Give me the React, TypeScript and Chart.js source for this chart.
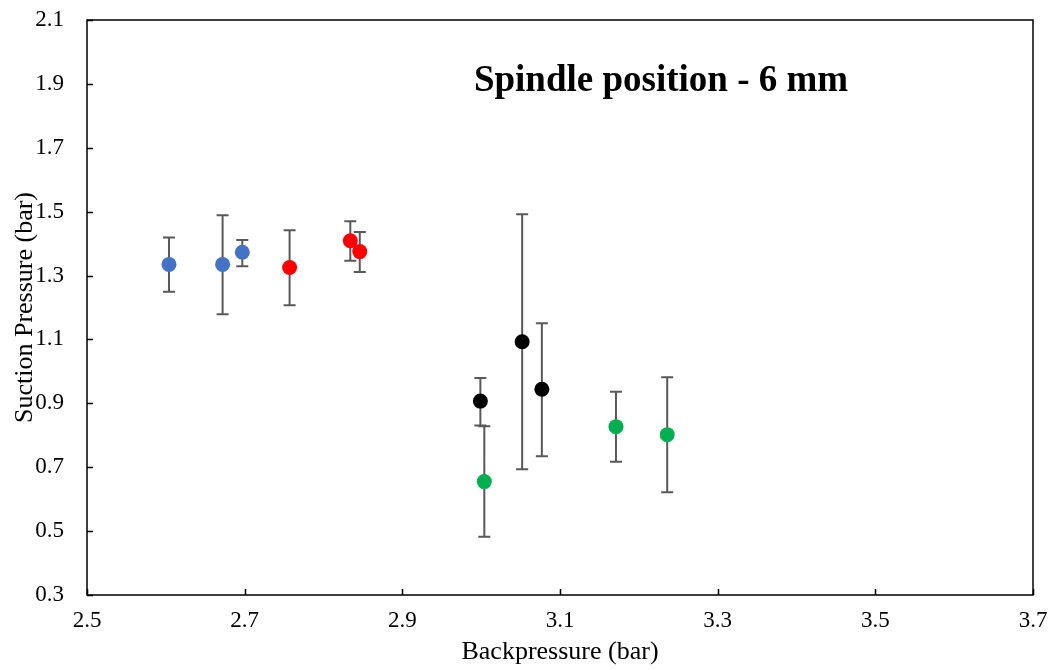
import React, { useEffect, useRef } from "react";
import { Chart, registerables } from "chart.js";

Chart.register(...registerables);

// Backpressure (bar) / Suction pressure (bar) with error bar limits
const blueX = [2.604, 2.672, 2.697];
const blueY = [1.335, 1.335, 1.373];
const blueHi = [1.419, 1.489, 1.411];
const blueLo = [1.249, 1.179, 1.329];

const redX = [2.757, 2.834, 2.846];
const redY = [1.325, 1.409, 1.375];
const redHi = [1.442, 1.47, 1.436];
const redLo = [1.207, 1.346, 1.311];

const blackX = [2.999, 3.052, 3.077];
const blackY = [0.907, 1.093, 0.944];
const blackHi = [0.979, 1.492, 1.151];
const blackLo = [0.831, 0.694, 0.734];

const greenX = [3.004, 3.171, 3.236];
const greenY = [0.655, 0.827, 0.802];
const greenHi = [0.828, 0.936, 0.982];
const greenLo = [0.482, 0.717, 0.622];

const xTicks = [2.5, 2.7, 2.9, 3.1, 3.3, 3.5, 3.7];
const yTicks = [0.3, 0.5, 0.7, 0.9, 1.1, 1.3, 1.5, 1.7, 1.9, 2.1];

const chartTitle = "Spindle position - 6 mm";
const xTitle = "Backpressure (bar)";
const yTitle = "Suction Pressure (bar)";

const FONT = "'Liberation Serif', 'Times New Roman', serif";

const series = [
  { x: blueX, y: blueY, hi: blueHi, lo: blueLo, color: "#4472C4" },
  { x: redX, y: redY, hi: redHi, lo: redLo, color: "#FF0000" },
  { x: blackX, y: blackY, hi: blackHi, lo: blackLo, color: "#000000" },
  { x: greenX, y: greenY, hi: greenHi, lo: greenLo, color: "#00B050" },
];

export default function App() {
  const ref = useRef<HTMLCanvasElement | null>(null);

  useEffect(() => {
    if (!ref.current) return;

    const errorBars = {
      id: "errorBars",
      beforeDatasetsDraw(chart: any) {
        const ctx = chart.ctx;
        const xs = chart.scales.x;
        const ys = chart.scales.y;
        ctx.save();
        ctx.strokeStyle = "#595959";
        ctx.lineWidth = 2;
        series.forEach((s) => {
          s.x.forEach((xv, i) => {
            const px = xs.getPixelForValue(xv);
            const top = ys.getPixelForValue(s.hi[i]);
            const bot = ys.getPixelForValue(s.lo[i]);
            ctx.beginPath();
            ctx.moveTo(px, top);
            ctx.lineTo(px, bot);
            ctx.moveTo(px - 6, top);
            ctx.lineTo(px + 6, top);
            ctx.moveTo(px - 6, bot);
            ctx.lineTo(px + 6, bot);
            ctx.stroke();
          });
        });
        ctx.restore();
      },
    };

    const frame = {
      id: "frame",
      afterDraw(chart: any) {
        const ctx = chart.ctx;
        const a = chart.chartArea;
        const xs = chart.scales.x;
        const ys = chart.scales.y;
        ctx.save();
        ctx.strokeStyle = "#000000";
        ctx.lineWidth = 1.5;
        ctx.strokeRect(a.left, a.top, a.right - a.left, a.bottom - a.top);
        ctx.beginPath();
        xTicks.forEach((t) => {
          const px = Math.round(xs.getPixelForValue(t)) + 0.5;
          ctx.moveTo(px, a.bottom);
          ctx.lineTo(px, a.bottom - 6);
        });
        yTicks.forEach((t) => {
          const py = Math.round(ys.getPixelForValue(t)) + 0.5;
          ctx.moveTo(a.left, py);
          ctx.lineTo(a.left + 6, py);
        });
        ctx.stroke();
        ctx.fillStyle = "#000000";
        ctx.font = `bold 37px ${FONT}`;
        ctx.textAlign = "center";
        ctx.textBaseline = "alphabetic";
        ctx.fillText(chartTitle, 661, 91);
        ctx.restore();
      },
    };

    const chart = new Chart(ref.current, {
      type: "scatter",
      data: {
        datasets: series.map((s) => ({
          data: s.x.map((xv, i) => ({ x: xv, y: s.y[i] })),
          backgroundColor: s.color,
          borderColor: s.color,
          pointRadius: 7.5,
          pointBorderWidth: 0,
          pointHoverRadius: 7.5,
        })),
      },
      options: {
        animation: false,
        responsive: false,
        maintainAspectRatio: false,
        layout: { padding: { left: 0, right: 23, top: 20, bottom: 0 } },
        plugins: {
          legend: { display: false },
          tooltip: { enabled: false },
          title: { display: false },
        },
        scales: {
          x: {
            type: "linear",
            min: 2.5,
            max: 3.7,
            afterBuildTicks(scale: any) {
              scale.ticks = xTicks.map((v) => ({ value: v }));
            },
            afterFit(scale: any) {
              scale.height = 75;
            },
            grid: { display: false, drawTicks: true, tickLength: 12, color: "rgba(0,0,0,0)" },
            border: { display: false },
            ticks: {
              color: "#000",
              font: { family: FONT, size: 23 },
              padding: 0,
              maxRotation: 0,
              autoSkip: false,
              callback: (v: any) => Number(v).toFixed(1),
            },
            title: {
              display: true,
              text: xTitle,
              color: "#000",
              font: { family: FONT, size: 26 },
              padding: { top: 0, bottom: 2 },
            },
          },
          y: {
            type: "linear",
            min: 0.3,
            max: 2.1,
            afterBuildTicks(scale: any) {
              scale.ticks = yTicks.map((v) => ({ value: v }));
            },
            afterFit(scale: any) {
              scale.width = 87;
            },
            grid: { display: false, drawTicks: true, tickLength: 23, color: "rgba(0,0,0,0)" },
            border: { display: false },
            ticks: {
              color: "#000",
              font: { family: FONT, size: 23 },
              padding: 0,
              autoSkip: false,
              callback: (v: any) => Number(v).toFixed(1),
            },
            title: {
              display: true,
              text: yTitle,
              color: "#000",
              font: { family: FONT, size: 26 },
              padding: { top: 10, bottom: 0 },
            },
          },
        },
      },
      plugins: [errorBars, frame],
    });

    return () => chart.destroy();
  }, []);

  return (
    <div style={{ position: "absolute", left: 0, top: 0, width: 1056, height: 670, background: "#fff" }}>
      <canvas ref={ref} width={1056} height={670} style={{ width: 1056, height: 670 }} />
    </div>
  );
}
